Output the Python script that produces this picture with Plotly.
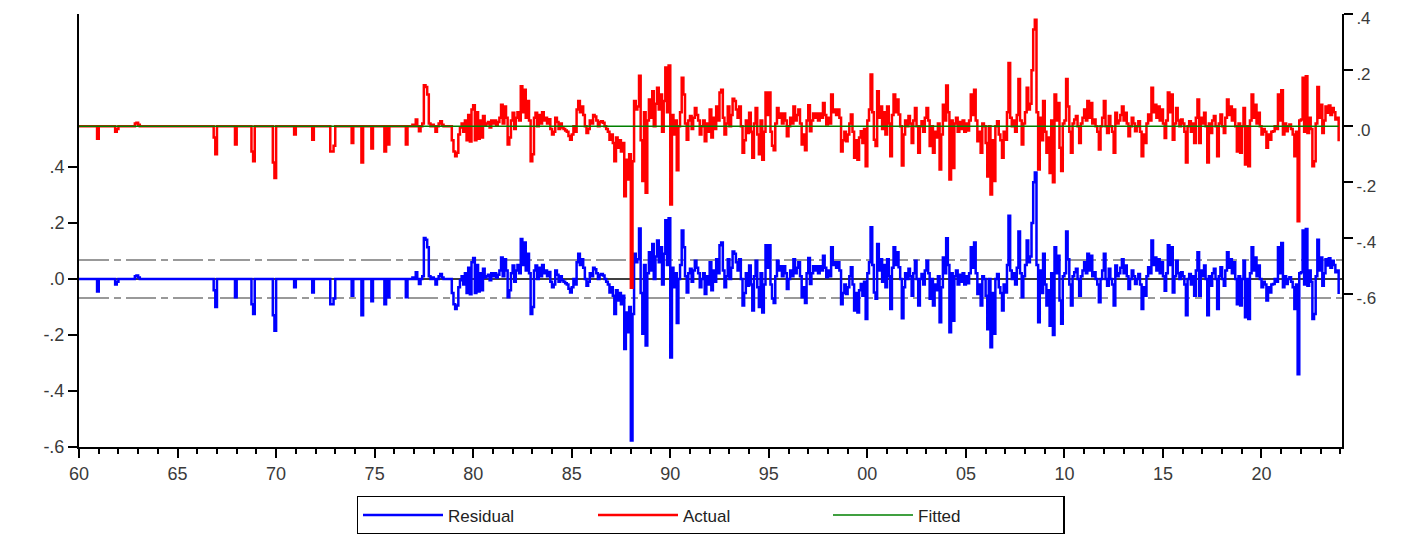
import pandas as pd
import plotly.graph_objects as go

# ---- Data (monthly residuals, 1960M01-2023M12) ----
residual_1960s = [
    0, 0, 0, 0, 0, 0, 0, 0, 0, 0, 0, -0.045,
    0, 0, 0, 0, 0, 0, 0, 0, 0, 0, -0.02, -0.01,
    0, 0, 0, 0, 0, 0, 0, 0, 0, 0, 0.01, 0.012,
    0.005, 0, 0, 0, 0, 0, 0, 0, 0, 0, 0, 0,
    0, 0, 0, 0, 0, 0, 0, 0, 0, 0, 0, 0,
    0, 0, 0, 0, 0, 0, 0, 0, 0, 0, 0, 0,
    0, 0, 0, 0, 0, 0, 0, 0, 0, 0, -0.04, -0.10,
    0, 0, 0, 0, 0, 0, 0, 0, 0, 0, 0, -0.065,
    0, 0, 0, 0, 0, 0, 0, 0, 0, -0.09, -0.125, 0,
    0, 0, 0, 0, 0, 0, 0, 0, 0, 0, -0.13, -0.185,
]
residual_1970s = [
    0, 0, 0, 0, 0, 0, 0, 0, 0, 0, 0, -0.03,
    0, 0, 0, 0, 0, 0, 0, 0, 0, 0, -0.048, 0,
    0, 0, 0, 0, 0, 0, 0, 0, 0, -0.09, -0.09, -0.07,
    0, 0, 0, 0, 0, 0, 0, 0, 0, 0, -0.06, 0,
    0, 0, 0, 0, -0.13, 0, 0, 0, 0, 0, -0.08, 0,
    0, 0, 0, 0, 0, 0, -0.09, 0, -0.065, 0, 0, 0,
    0, 0, 0, 0, 0, 0, 0, -0.065, 0, 0, 0, 0.005,
    0, 0.024, 0, -0.018, 0, 0.01, 0.146, 0.14, 0.113, 0.01, 0.0, 0.005,
    0.0, -0.02, 0.0, 0.01, 0.018, 0.005, 0.0, 0.0, 0.0, 0.0, 0.0, -0.05,
    -0.09, -0.107, -0.095, -0.03, -0.005, 0.01, -0.02, 0.02, -0.05, 0.04, -0.055, 0.06,
]
residual_1980s = [
    0.075, -0.05, 0.05, -0.045, 0.02, -0.04, 0.036, 0.005, 0.01, 0.015, -0.005, 0.02,
    0.01, 0.02, 0.005, 0.015, 0.03, 0.077, 0.01, 0.07, 0.03, -0.065, -0.04, 0.02,
    0.048, -0.01, 0.03, 0.05, 0.02, 0.143, 0.05, 0.13, 0.03, 0.09, 0.02, -0.125,
    -0.1, 0.03, 0.048, 0.0, 0.04, 0.01, 0.05, 0.02, 0.03, 0.01, 0.025, -0.01,
    -0.03, -0.02, 0.03, 0.015, -0.01, 0.01, -0.005, -0.01, -0.015, -0.02, -0.035, -0.048,
    -0.03, 0.0, -0.02, 0.06, 0.09, 0.05, 0.07, 0.04, 0.0, -0.024, -0.01, 0.02,
    0.01, 0.04, 0.035, 0.02, 0.0, 0.015, 0.018, 0.012, 0.0, -0.01, -0.02, -0.048,
    -0.03, -0.06, -0.125, -0.04, -0.077, -0.05, -0.09, -0.06, -0.25, -0.12, -0.19, -0.1,
    -0.577, -0.125, 0.09, 0.06, 0.07, 0.18, -0.05, -0.196, 0.05, -0.238, 0.02, 0.095,
    0.03, 0.125, 0.0, 0.08, 0.137, 0.06, 0.113, -0.02, 0.09, 0.21, 0.05, 0.217,
]
residual_1990s = [
    -0.28, 0.04, -0.03, 0.02, -0.157, 0.0, 0.05, 0.173, 0.113, 0.01, -0.048, 0.02,
    0.036, -0.01, 0.03, 0.065, 0.04, 0.02, -0.03, 0.0, 0.02, -0.054, 0.01, -0.02,
    0.06, -0.04, 0.03, -0.01, 0.07, 0.02, 0.12, 0.13, 0.03, -0.03, 0.01, 0.07,
    0.0, 0.04, 0.098, 0.09, 0.06, 0.03, 0.07, 0.0, -0.095, -0.05, 0.02, -0.024,
    0.048, -0.02, -0.113, 0.01, 0.065, -0.03, -0.1, 0.02, -0.12, -0.02, 0.12, 0.04,
    0.12, -0.02, -0.07, -0.086, 0.01, 0.065, 0.03, 0.045, 0.01, 0.045, 0.02, -0.036,
    0.0, 0.03, 0.01, 0.07, 0.02, 0.04, 0.06, 0.01, -0.065, -0.03, -0.086, 0.02,
    0.075, -0.018, 0.02, 0.045, 0.03, 0.045, 0.02, 0.045, 0.03, 0.083, 0.04, 0.006,
    0.03, 0.01, 0.113, 0.05, 0.06, 0.04, 0.06, 0.03, -0.09, -0.05, -0.02, -0.054,
    -0.03, 0.01, 0.042, -0.02, -0.113, -0.05, -0.12, -0.04, -0.018, -0.06, -0.01, -0.143,
]
residual_2000s = [
    0.02, 0.06, 0.185, 0.05, -0.048, -0.071, 0.125, 0.03, 0.07, -0.01, 0.05, -0.03,
    0.07, 0.01, -0.107, 0.04, 0.113, 0.05, 0.095, 0.042, 0.0, -0.14, -0.03, 0.02,
    0.0, 0.036, 0.01, -0.06, 0.02, 0.065, 0.0, -0.095, 0.0, 0.018, -0.02, 0.03,
    0.065, 0.02, -0.071, 0.0, -0.095, -0.02, -0.04, 0.01, -0.155, -0.03, 0.077, 0.02,
    0.145, 0.05, -0.19, 0.02, -0.149, 0.01, 0.03, -0.02, 0.015, -0.01, 0.02, -0.02,
    0.01, -0.015, 0.02, 0.113, 0.04, 0.13, 0.02, -0.054, -0.02, -0.095, 0.01, 0.0,
    -0.06, -0.18, 0.0, -0.244, -0.05, -0.196, 0.0, 0.018, -0.03, -0.05, -0.113, -0.02,
    -0.048, 0.05, 0.226, 0.03, 0.0, 0.02, -0.02, 0.04, 0.169, 0.02, -0.065, 0.01,
    0.05, 0.137, 0.06, 0.08, 0.2, 0.345, 0.38, 0.05, -0.155, 0.03, -0.05, 0.09,
    -0.02, -0.095, -0.04, -0.167, 0.02, -0.2, 0.113, 0.02, 0.083, -0.077, -0.16, 0.01,
]
residual_2010s = [
    0.02, 0.169, 0.07, -0.02, -0.095, 0.01, 0.024, 0.036, 0.0, -0.06, 0.01, 0.03,
    0.06, 0.02, 0.09, 0.03, 0.083, 0.01, 0.024, 0.0, -0.02, -0.083, 0.0, 0.03,
    0.09, 0.0, -0.024, 0.036, 0.0, -0.02, -0.095, 0.048, 0.01, 0.02, 0.04, 0.07,
    0.02, 0.048, 0.01, -0.036, 0.0, 0.03, 0.01, -0.018, 0.0, 0.018, -0.02, -0.107,
    -0.03, -0.06, 0.01, 0.042, 0.02, 0.137, 0.05, 0.077, 0.03, 0.07, 0.02, 0.06,
    0.01, -0.042, 0.02, 0.12, 0.05, 0.113, -0.048, 0.01, 0.065, 0.02, 0.0, 0.024,
    0.01, -0.02, -0.13, 0.0, 0.018, -0.02, 0.01, -0.06, 0.03, 0.095, -0.06, 0.03,
    0.01, 0.048, 0.0, -0.13, 0.01, -0.024, 0.02, 0.036, 0.0, -0.107, 0.01, 0.042,
    0.0, -0.024, 0.03, 0.095, 0.04, 0.07, 0.02, 0.06, 0.0, -0.09, 0.01, -0.095,
    0.0, 0.065, -0.137, 0.0, -0.143, 0.02, 0.113, 0.03, 0.077, 0.01, 0.048, 0.0,
]
residual_2020s = [
    -0.03, -0.01, -0.02, -0.077, -0.03, -0.048, -0.02, -0.018, 0.0, -0.01, 0.113, 0.02,
    0.128, -0.03, 0.01, -0.018, 0.0, 0.006, -0.01, -0.03, -0.107, -0.02, -0.34, 0.02,
    0.024, 0.173, -0.02, 0.178, -0.024, 0.03, -0.01, -0.143, -0.125, 0.01, 0.14, 0.03,
    0.077, -0.024, 0.02, 0.07, 0.048, 0.074, 0.04, 0.065, 0.05, 0.024, 0.03, -0.054,
]
fitted_level = 0.0          # fitted values (flat line at zero)
se_band = 0.068             # +/- 1 S.E. band on the residual axis
start_month = "1960-01-01"

left_ticks = [0.4, 0.2, 0.0, -0.2, -0.4, -0.6]
left_labels = [".4", ".2", ".0", "-.2", "-.4", "-.6"]
right_ticks = [0.4, 0.2, 0.0, -0.2, -0.4, -0.6]
right_labels = [".4", ".2", ".0", "-.2", "-.4", "-.6"]

# ---- Build series ----
residual = (residual_1960s + residual_1970s + residual_1980s + residual_1990s
            + residual_2000s + residual_2010s + residual_2020s)
dates = pd.date_range(start_month, periods=len(residual), freq="MS")
fitted = [fitted_level] * len(residual)
actual = [r + f for r, f in zip(residual, fitted)]

font_family = "Liberation Sans, Arial, sans-serif"
tick_font = dict(family=font_family, size=18, color="#3a3a3a")

fig = go.Figure()
fig.add_trace(go.Scatter(x=dates, y=residual, name="Residual", mode="lines",
                         line=dict(color="#0000ff", width=2.5, shape="hv"), yaxis="y"))
fig.add_trace(go.Scatter(x=dates, y=actual, name="Actual", mode="lines",
                         line=dict(color="#ff0000", width=2.5, shape="hv"), yaxis="y2"))
fig.add_trace(go.Scatter(x=dates, y=fitted, name="Fitted", mode="lines",
                         line=dict(color="#008000", width=1.5), yaxis="y2"))

shapes = [
    dict(type="line", xref="paper", yref="y", x0=0, x1=1, y0=0, y1=0,
         line=dict(color="black", width=1.5), layer="below"),
    dict(type="line", xref="paper", yref="y", x0=0, x1=1, y0=se_band, y1=se_band,
         line=dict(color="#999999", width=2, dash="30px,5px,7px,5px"), layer="below"),
    dict(type="line", xref="paper", yref="y", x0=0, x1=1, y0=-se_band, y1=-se_band,
         line=dict(color="#999999", width=2, dash="30px,5px,7px,5px"), layer="below"),
]

fig.update_layout(
    width=1403, height=526,
    margin=dict(l=71, r=69, t=6, b=87, autoexpand=False),
    paper_bgcolor="white", plot_bgcolor="white",
    showlegend=True,
    shapes=shapes,
    xaxis=dict(
        type="date",
        range=["1960-01-01", "2024-02-01"],
        tick0="1960-01-01", dtick="M60", tickformat="%y",
        ticks="outside", ticklen=9, tickwidth=1.5, tickcolor="black",
        showline=True, linecolor="black", linewidth=2,
        showgrid=False, zeroline=False, automargin=False,
        tickfont=tick_font, ticklabeloverflow="allow",
        minor=dict(dtick="M12", ticks="outside", ticklen=5, tickwidth=1.5,
                   tickcolor="black", showgrid=False),
    ),
    yaxis=dict(
        range=[-0.6, 0.946],
        tickvals=left_ticks, ticktext=left_labels,
        ticks="outside", ticklen=9, tickwidth=1.5, tickcolor="black",
        showline=True, linecolor="black", linewidth=2,
        showgrid=False, zeroline=False, automargin=False,
        tickfont=tick_font, ticklabeloverflow="allow",
    ),
    yaxis2=dict(
        range=[-1.146, 0.4008], overlaying="y", side="right",
        tickvals=right_ticks, ticktext=right_labels,
        ticks="outside", ticklen=9, tickwidth=1.5, tickcolor="black",
        showline=True, linecolor="black", linewidth=2,
        showgrid=False, zeroline=False, automargin=False,
        tickfont=dict(family=font_family, size=17, color="#3a3a3a"),
        ticklabeloverflow="allow", ticklabelshift=4,
    ),
    legend=dict(
        orientation="h", x=0.5, xanchor="center", y=-0.113, yanchor="top",
        bordercolor="black", borderwidth=1.5, bgcolor="white",
        font=dict(family=font_family, size=17, color="#222222"),
        itemwidth=80, entrywidth=140, entrywidthmode="pixels",
    ),
)

fig.write_html("out.html")
